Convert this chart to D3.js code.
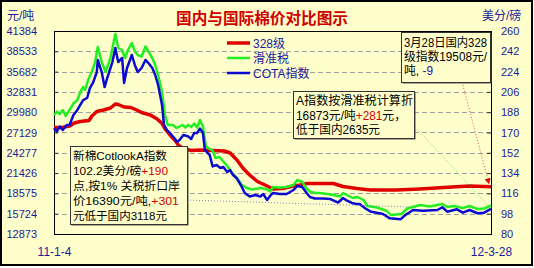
<!DOCTYPE html>
<html>
<head>
<meta charset="utf-8">
<script src="https://cdn.jsdelivr.net/npm/d3@7"></script>
<style>
body { margin: 0; background: #fff; }
text { font-family: "Liberation Sans", "Noto Sans CJK SC", sans-serif; }
</style>
</head>
<body>
<div id="chart"></div>
<script>
var leftTicks = [12873, 15724, 18575, 21426, 24277, 27129, 29980, 32831, 35682, 38533, 41384];
var rightTicks = [80, 98, 116, 134, 152, 170, 188, 206, 224, 242, 260];
var dateLabels = ["11-1-4", "12-3-28"];
var seriesNames = ["328级", "滑准税", "COTA指数"];

// 328级 (元/吨)
var redDates = ["2011-01-04","2011-01-12","2011-01-20","2011-01-25","2011-01-31","2011-02-09","2011-02-12","2011-02-17",
  "2011-02-24","2011-03-03","2011-03-08","2011-03-11","2011-03-17","2011-03-24","2011-03-30","2011-04-04","2011-04-13",
  "2011-04-20","2011-04-25","2011-04-29","2011-05-04","2011-05-09","2011-05-12","2011-05-18","2011-05-25","2011-06-03",
  "2011-06-16","2011-06-28","2011-07-04","2011-07-11","2011-07-17","2011-07-24","2011-08-01","2011-08-11","2011-08-17",
  "2011-08-27","2011-09-07","2011-09-14","2011-09-21","2011-10-18","2011-10-28","2011-11-11","2011-11-25","2011-12-22",
  "2012-01-15","2012-02-08","2012-03-06","2012-03-28"];
var redValues = [27831,27831,28042,28463,28674,28814,29447,30078,30289,30570,31132,31061,30710,30640,30289,29938,29587,
  29025,28393,27480,26637,25935,25303,24811,24601,24671,24601,24530,24249,23266,22143,21160,20247,19615,19193,19263,
  19615,19755,19966,19966,19544,19263,19053,19053,19193,19404,19615,19508];

// 滑准税 (元/吨)
var greenDates = ["2011-01-04","2011-01-07","2011-01-10","2011-01-13","2011-01-16","2011-01-20","2011-01-24","2011-01-28",
  "2011-01-31","2011-02-03","2011-02-05","2011-02-08","2011-02-12","2011-02-15","2011-02-18","2011-02-22","2011-02-26",
  "2011-03-03","2011-03-08","2011-03-11","2011-03-15","2011-03-18","2011-03-21","2011-03-25","2011-03-28","2011-03-31",
  "2011-04-04","2011-04-08","2011-04-11","2011-04-15","2011-04-18","2011-04-21","2011-04-25","2011-04-28","2011-05-01",
  "2011-05-06","2011-05-10","2011-05-16","2011-05-19","2011-05-22","2011-05-25","2011-05-28","2011-05-31","2011-06-03",
  "2011-06-06","2011-06-09","2011-06-12","2011-06-16","2011-06-19","2011-06-23","2011-06-27","2011-07-01","2011-07-06",
  "2011-07-11","2011-07-16","2011-07-21","2011-07-27","2011-08-04","2011-08-10","2011-08-14","2011-08-17","2011-08-24",
  "2011-08-31","2011-09-07","2011-09-11","2011-09-16","2011-09-20","2011-09-24","2011-09-29","2011-10-04","2011-10-12",
  "2011-10-18","2011-10-25","2011-10-28","2011-11-01","2011-11-07","2011-11-12","2011-11-18","2011-11-22","2011-12-02",
  "2011-12-12","2011-12-16","2011-12-27","2012-01-02","2012-01-15","2012-01-25","2012-02-07","2012-02-12","2012-02-19",
  "2012-02-28","2012-03-06","2012-03-14","2012-03-21","2012-03-28"];
var greenValues = [29587,30078,29727,30289,29446,30289,31202,31693,32817,33519,33098,34502,35696,36890,39137,37030,35626,
  37592,40963,38997,38716,37592,38716,39699,38505,38014,37803,39207,38505,37592,36609,35205,32817,29587,28182,
  28182,27761,28182,27831,28182,27901,28393,27831,28884,27971,25233,24881,24601,23547,23688,23056,22424,21440,
  20738,19755,19334,19123,19334,19193,18842,19474,19404,19474,19755,20457,20176,19334,18842,18631,18631,18491,
  18351,18140,18631,18351,17929,18070,17648,16806,16595,16103,15542,15682,16454,16946,16735,17087,16665,16806,
  16525,16806,16384,16454,16873];

// COTA指数 (美分/磅)
var blueDates = ["2011-01-04","2011-01-07","2011-01-10","2011-01-13","2011-01-17","2011-01-20","2011-01-24","2011-01-28",
  "2011-01-31","2011-02-03","2011-02-07","2011-02-10","2011-02-13","2011-02-17","2011-02-18","2011-02-22","2011-02-25",
  "2011-02-28","2011-03-05","2011-03-08","2011-03-11","2011-03-15","2011-03-17","2011-03-20","2011-03-25","2011-03-28",
  "2011-03-31","2011-04-04","2011-04-08","2011-04-11","2011-04-15","2011-04-18","2011-04-21","2011-04-25","2011-04-27",
  "2011-04-30","2011-05-03","2011-05-08","2011-05-10","2011-05-13","2011-05-17","2011-05-22","2011-05-25","2011-05-28",
  "2011-05-31","2011-06-03","2011-06-06","2011-06-08","2011-06-13","2011-06-16","2011-06-20","2011-06-24","2011-06-27",
  "2011-07-01","2011-07-04","2011-07-07","2011-07-11","2011-07-16","2011-07-19","2011-07-24","2011-07-30","2011-08-04",
  "2011-08-07","2011-08-11","2011-08-14","2011-08-17","2011-08-24","2011-08-31","2011-09-07","2011-09-11","2011-09-16",
  "2011-09-21","2011-09-24","2011-09-29","2011-10-07","2011-10-15","2011-10-23","2011-10-28","2011-10-31","2011-11-06",
  "2011-11-11","2011-11-14","2011-11-20","2011-11-25","2011-12-08","2011-12-15","2011-12-26","2011-12-31","2012-01-08",
  "2012-01-18","2012-02-02","2012-02-07","2012-02-12","2012-02-22","2012-02-28","2012-03-06","2012-03-14","2012-03-21",
  "2012-03-28"];
var blueValues = [174.0,170.9,175.3,172.2,176.7,176.7,185.5,190.0,194.4,198.8,200.6,209.5,213.9,223.6,234.3,223.6,210.3,
  219.2,232.5,244.9,232.5,236.1,213.9,227.2,238.7,229.9,223.6,227.2,234.3,231.6,227.2,221.0,212.1,194.4,176.7,
  172.2,169.6,164.7,161.6,163.3,167.8,166.5,164.2,169.6,169.6,173.5,169.6,154.5,150.0,139.9,141.2,138.5,139.4,
  135.0,136.7,132.3,129.2,121.7,116.4,113.3,114.6,113.3,115.5,110.1,113.7,116.4,115.5,115.5,119.0,122.6,121.7,
  115.9,112.8,111.5,111.5,111.0,107.9,111.9,110.1,107.5,106.6,106.6,102.6,100.0,97.7,93.9,93.0,96.8,101.3,
  100.7,101.3,103.7,99.8,101.9,98.9,101.3,98.4,98.9,102.2];

var bg = "#ffffcc";
var axisColor = "#1a1a9c";
var parseDate = d3.timeParse("%Y-%m-%d");

var width = 534, height = 268;
var plot = { left: 54, right: 491, top: 31, bottom: 234 };

var svg = d3.select("#chart").append("svg")
  .attr("width", width)
  .attr("height", height);

svg.append("rect")
  .attr("x", 1).attr("y", 1)
  .attr("width", 531).attr("height", 264)
  .attr("fill", bg)
  .attr("stroke", "#000")
  .attr("stroke-width", 2);

var startDate = parseDate(redDates[0]);
var endDate = parseDate(redDates[redDates.length - 1]);

var xScale = d3.scaleTime()
  .domain([startDate, endDate])
  .range([plot.left, plot.right]);

var yLeft = d3.scaleLinear()
  .domain([leftTicks[0], leftTicks[leftTicks.length - 1]])
  .range([plot.bottom, plot.top]);

var yRight = d3.scaleLinear()
  .domain([rightTicks[0], rightTicks[rightTicks.length - 1]])
  .range([plot.bottom, plot.top]);

/* grid */
svg.append("g")
  .selectAll("line")
  .data(leftTicks.slice(1, -1))
  .enter()
  .append("line")
  .attr("x1", plot.left).attr("x2", plot.right)
  .attr("y1", function(d) { return Math.round(yLeft(d)) + 0.5; })
  .attr("y2", function(d) { return Math.round(yLeft(d)) + 0.5; })
  .attr("stroke", "#a0a0a0")
  .attr("stroke-dasharray", "5,3");

/* axes */
var leftAxis = svg.append("g")
  .attr("transform", "translate(" + plot.left + ",0)")
  .call(d3.axisLeft(yLeft).tickValues(leftTicks).tickFormat(d3.format("d"))
    .tickSizeInner(-4).tickSizeOuter(0).tickPadding(17));

var rightAxis = svg.append("g")
  .attr("transform", "translate(" + plot.right + ",0)")
  .call(d3.axisRight(yRight).tickValues(rightTicks).tickFormat(d3.format("d"))
    .tickSizeInner(-4).tickSizeOuter(0).tickPadding(10));

var bottomAxis = svg.append("g")
  .attr("transform", "translate(0," + plot.bottom + ")")
  .call(d3.axisBottom(xScale).tickValues([startDate, endDate]).tickSize(0).tickPadding(13)
    .tickFormat(function(d, i) { return dateLabels[i]; }));

[leftAxis, rightAxis, bottomAxis].forEach(function(a) {
  a.select(".domain").remove();
  a.selectAll("line").attr("stroke", "#333");
  a.selectAll("text")
    .attr("fill", axisColor)
    .style("font-family", "'Liberation Sans', sans-serif")
    .attr("font-size", 11);
});
bottomAxis.selectAll("text").attr("font-size", 12);

svg.append("rect")
  .attr("x", plot.left + 0.5).attr("y", plot.top + 0.5)
  .attr("width", plot.right - plot.left).attr("height", plot.bottom - plot.top)
  .attr("fill", "none")
  .attr("stroke", "#000");

/* units and title */
svg.append("text").text("元/吨")
  .attr("x", 7).attr("y", 20).attr("font-size", 12).attr("fill", axisColor);
svg.append("text").text("美分/磅")
  .attr("x", 482).attr("y", 20).attr("font-size", 12).attr("fill", axisColor);
svg.append("text").text("国内与国际棉价对比图示")
  .attr("x", 176).attr("y", 24)
  .attr("font-size", 15.5).attr("font-weight", "bold")
  .attr("fill", "#d00000")
  .attr("textLength", 172).attr("lengthAdjust", "spacingAndGlyphs");

/* series */
function toPoints(dates, values) {
  return dates.map(function(d, i) { return { date: parseDate(d), value: values[i] }; });
}

var series = [
  { name: seriesNames[0], data: toPoints(redDates, redValues), y: yLeft, color: "#e00000", width: 3.5 },
  { name: seriesNames[1], data: toPoints(greenDates, greenValues), y: yLeft, color: "#22ee22", width: 2.5 },
  { name: seriesNames[2], data: toPoints(blueDates, blueValues), y: yRight, color: "#0a0ad0", width: 2.5 }
];

series.forEach(function(s) {
  var line = d3.line()
    .x(function(d) { return xScale(d.date); })
    .y(function(d) { return s.y(d.value); });
  svg.append("path")
    .datum(s.data)
    .attr("d", line)
    .attr("fill", "none")
    .attr("stroke", s.color)
    .attr("stroke-width", s.width)
    .attr("stroke-linejoin", "round");
});

/* legend */
var legend = svg.append("g");
series.forEach(function(s, i) {
  var ly = 43 + i * 15;
  legend.append("line")
    .attr("x1", 227).attr("x2", 250)
    .attr("y1", ly).attr("y2", ly)
    .attr("stroke", s.color)
    .attr("stroke-width", i == 0 ? 3.5 : 2.5);
  legend.append("text").text(s.name)
    .attr("x", 253).attr("y", ly + 4.5)
    .attr("font-size", 12)
    .attr("fill", axisColor);
});

/* pointer lines */
var defs = svg.append("defs");
defs.append("marker")
  .attr("id", "redArrow")
  .attr("viewBox", "0 0 10 10")
  .attr("refX", 9).attr("refY", 5)
  .attr("markerWidth", 6).attr("markerHeight", 6)
  .attr("orient", "auto")
  .append("path")
  .attr("d", "M0,0 L10,5 L0,10 z")
  .attr("fill", "#e00000");

svg.append("line")
  .attr("x1", 462).attr("y1", 82)
  .attr("x2", xScale(endDate) - 2).attr("y2", yLeft(redValues[redValues.length - 1]) - 3)
  .attr("stroke", "#e05050").attr("stroke-dasharray", "1,2")
  .attr("marker-end", "url(#redArrow)");

svg.append("line")
  .attr("x1", 395).attr("y1", 105)
  .attr("x2", xScale(endDate) - 3).attr("y2", yLeft(greenValues[greenValues.length - 1]))
  .attr("stroke", "#60d060").attr("stroke-dasharray", "1,2");

svg.append("line")
  .attr("x1", 187).attr("y1", 200)
  .attr("x2", 410).attr("y2", 207)
  .attr("stroke", "#8080c8").attr("stroke-dasharray", "1,2");

/* note boxes */
function noteBox(x0, y0, w, h, lines, firstBase, step, size) {
  var g = svg.append("g");
  g.append("rect")
    .attr("x", x0 + 1.5).attr("y", y0 + 1.5)
    .attr("width", w).attr("height", h)
    .attr("fill", "#555");
  g.append("rect")
    .attr("x", x0 + 0.5).attr("y", y0 + 0.5)
    .attr("width", w).attr("height", h)
    .attr("fill", bg)
    .attr("stroke", "#333");
  lines.forEach(function(line, i) {
    var t = g.append("text")
      .attr("x", x0 + 3).attr("y", firstBase + i * step)
      .attr("font-size", size)
      .attr("textLength", line.w)
      .attr("lengthAdjust", "spacingAndGlyphs");
    line.parts.forEach(function(p) {
      t.append("tspan").text(p[0]).attr("fill", p[1] || "#000");
    });
  });
}

noteBox(70, 146, 117, 78, [
  { parts: [["新棉CotlookA指数"]], w: 94 },
  { parts: [["102.2美分/磅"], ["+190", "#d00000"]], w: 95 },
  { parts: [["点,按1% 关税折口岸"]], w: 107 },
  { parts: [["价16390元/吨,"], ["+301", "#d00000"]], w: 106 },
  { parts: [["元低于国内3118元"]], w: 94 }
], 159.5, 15, 11.5);

noteBox(293, 91, 121, 47, [
  { parts: [["A指数按滑准税计算折"]], w: 117 },
  { parts: [["16873元/吨"], ["+281", "#d00000"], ["元，"]], w: 110 },
  { parts: [["低于国内2635元"]], w: 84 }
], 105, 14.5, 12);

noteBox(401, 32, 89, 50, [
  { parts: [["3月28日国内328"]], w: 83 },
  { parts: [["级指数19508元/"]], w: 83 },
  { parts: [["吨, "], ["-9", axisColor]], w: 29 }
], 47, 14, 12);
</script>
</body>
</html>
